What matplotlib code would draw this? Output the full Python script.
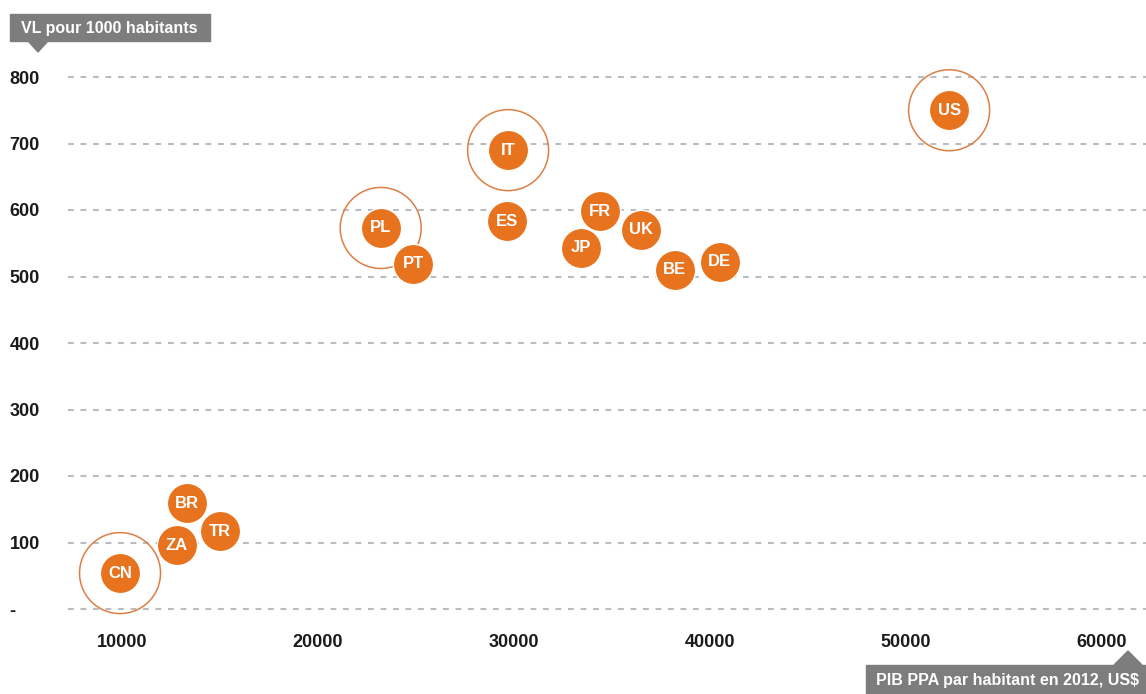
import matplotlib
matplotlib.use('Agg')
import matplotlib.pyplot as plt
from matplotlib.patches import Polygon, Rectangle

pays = ['CN', 'ZA', 'BR', 'TR', 'PL', 'PT', 'IT', 'ES', 'JP', 'FR', 'UK', 'BE', 'DE', 'US']
pib = [9900, 12800, 13300, 15000, 23200, 24850, 29700, 29650, 33400, 34400, 36500, 38200, 40500, 52200]
vl = [54, 96, 159, 117, 573, 519, 690, 583, 543, 598, 570, 510, 522, 750]
entoures = ['CN', 'PL', 'IT', 'US']

xticks = [10000, 20000, 30000, 40000, 50000, 60000]
xlabels = ['10000', '20000', '30000', '40000', '50000', '60000']
yticks = [0, 100, 200, 300, 400, 500, 600, 700, 800]
ylabels = ['-', '100', '200', '300', '400', '500', '600', '700', '800']

orange = '#E8731F'
gris = '#7d7d7d'
plt.rcParams['font.family'] = ['Liberation Sans Narrow', 'Liberation Sans', 'DejaVu Sans']

W, H = 1146, 694
fig = plt.figure(figsize=(W / 100, H / 100), dpi=100)
# axes : de x=68px a 1146px, de y=50px a 620px (depuis le haut)
ax = fig.add_axes([68 / W, (H - 620) / H, (W - 68) / W, 570 / H])
ax.set_xlim(7245, 62245)
ax.set_ylim((609 - 620) / 0.665, (609 - 50) / 0.665)
for s in ax.spines.values():
    s.set_visible(False)

for v in yticks:
    ax.axhline(v, color='#b9bdc2', lw=1.5, ls=(0, (2.8, 3.2)), zorder=0)

ax.set_xticks(xticks)
ax.set_xticklabels(xlabels, fontsize=13, fontweight='bold', color='#1a1a1a')
ax.set_yticks(yticks)
ax.set_yticklabels(ylabels, fontsize=13, fontweight='bold', color='#1a1a1a', ha='left')
ax.tick_params(axis='y', length=0, pad=42)
ax.tick_params(axis='x', length=0, pad=10)

for p, x, y in zip(pays, pib, vl):
    if p in entoures:
        ax.scatter([x], [y], s=3400, facecolor='none', edgecolor='#DC7F45', lw=1.1, zorder=2)
    ax.scatter([x], [y], s=840, color=orange, edgecolor='white', lw=1.0, zorder=3)
    ax.text(x, y, p, color='white', fontsize=12, fontweight='bold', ha='center', va='center', zorder=4)

# etiquettes des axes
fig.text(21 / W, 1 - 28 / H, 'VL pour 1000 habitants', color='white', fontsize=11.5,
         fontweight='bold', va='center', ha='left')
fig.patches.append(Rectangle((10 / W, 1 - 41 / H), 200 / W, 27 / H, transform=fig.transFigure,
                             color=gris, zorder=0))
fig.patches.append(Polygon([(28 / W, 1 - 41 / H), (48 / W, 1 - 41 / H), (38 / W, 1 - 52 / H)],
                           transform=fig.transFigure, color=gris))

fig.text(876 / W, 1 - 681 / H, 'PIB PPA par habitant en 2012, US$', color='white', fontsize=11.5,
         fontweight='bold', va='center', ha='left')
fig.patches.append(Rectangle((866 / W, 0), 280 / W, 29 / H, transform=fig.transFigure,
                             color=gris, zorder=0))
fig.patches.append(Polygon([(1114 / W, 29 / H), (1142 / W, 29 / H), (1128 / W, 43 / H)],
                           transform=fig.transFigure, color=gris))

fig.savefig('out.png', dpi=100)
